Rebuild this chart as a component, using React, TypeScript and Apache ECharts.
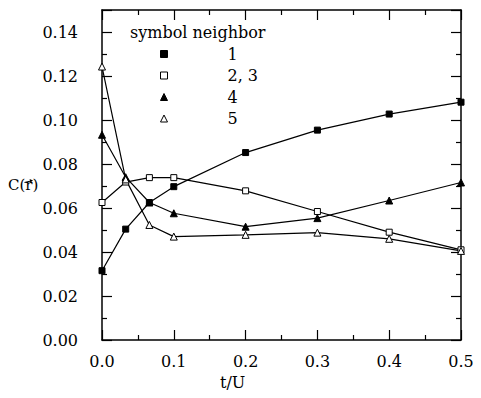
import React, { useEffect, useRef } from "react";
import * as echarts from "echarts";

const tValues = [0, 0.033, 0.066, 0.1, 0.2, 0.3, 0.4, 0.5];
const neighbor1 = [0.0315, 0.0504, 0.0625, 0.0697, 0.0852, 0.0954, 0.1027, 0.1081];
const neighbor23 = [0.0625, 0.0718, 0.0738, 0.0738, 0.0678, 0.0584, 0.049, 0.041];
const neighbor4 = [0.0933, 0.074, 0.0625, 0.0576, 0.0515, 0.0554, 0.0634, 0.0716];
const neighbor5 = [0.1243, 0.073, 0.0523, 0.047, 0.0478, 0.0488, 0.046, 0.0405];
const seriesNames = ["1", "2, 3", "4", "5"];
const xTitle = "t/U";
const yTitle = "C(r)";
const legendTitle = "symbol neighbor";

const FONT = "DejaVu Serif";

export default function App() {
  const ref = useRef<HTMLDivElement>(null);
  useEffect(() => {
    if (!ref.current) return;
    const chart = echarts.init(ref.current, null, { renderer: "svg" });
    const pairs = (ys: number[]) => tValues.map((t, i) => [t, ys[i]]);
    const filled = { color: "#000", borderColor: "#000", borderWidth: 1 };
    const open = { color: "#fff", borderColor: "#000", borderWidth: 1 };
    const mk = (name: string, ys: number[], symbol: string, style: any) => ({
      name,
      type: "line",
      data: pairs(ys),
      symbol,
      symbolSize: symbol === "triangle" ? 7 : 6,
      showSymbol: true,
      itemStyle: style,
      lineStyle: { color: "#000", width: 1.2 },
      xAxisIndex: 0,
      yAxisIndex: 0,
      z: 3,
    });
    const axisCommon = {
      axisLine: { show: true, onZero: false, lineStyle: { color: "#000", width: 1.5 } },
      axisTick: { show: true, inside: true, length: 10, lineStyle: { color: "#000", width: 1.2 } },
      minorTick: { show: true, splitNumber: 2, length: 5, lineStyle: { color: "#000", width: 1.2 } },
      splitLine: { show: false },
    };
    chart.setOption({
      animation: false,
      backgroundColor: "#fff",
      grid: { left: 102, right: 20, top: 10, bottom: 58, containLabel: false },
      xAxis: [
        {
          type: "value",
          position: "bottom",
          min: 0,
          max: 0.5,
          interval: 0.1,
          ...axisCommon,
          axisLabel: {
            show: true,
            margin: 13,
            fontFamily: FONT,
            fontSize: 16,
            color: "#000",
            formatter: (v: number) => v.toFixed(1),
          },
        },
        {
          type: "value",
          position: "top",
          min: 0,
          max: 0.5,
          interval: 0.1,
          ...axisCommon,
          axisLabel: { show: false },
        },
      ],
      yAxis: [
        {
          type: "value",
          position: "left",
          min: 0,
          max: 0.15,
          interval: 0.02,
          ...axisCommon,
          axisLabel: {
            show: true,
            margin: 24,
            fontFamily: FONT,
            fontSize: 16,
            color: "#000",
            showMaxLabel: false,
            formatter: (v: number) => v.toFixed(2),
          },
        },
        {
          type: "value",
          position: "right",
          min: 0,
          max: 0.15,
          interval: 0.02,
          ...axisCommon,
          axisLabel: { show: false },
        },
      ],
      legend: {
        show: true,
        orient: "vertical",
        left: 155,
        top: 41,
        itemWidth: 7,
        itemHeight: 7,
        itemGap: 5.5,
        selectedMode: false,
        formatter: (name: string) => `{p|${name}}`,
        textStyle: {
          fontFamily: FONT,
          fontSize: 16,
          color: "#000",
          lineHeight: 15,
          rich: { p: { padding: [0, 0, 0, 55], fontFamily: FONT, fontSize: 16, color: "#000" } },
        },
        data: [
          { name: seriesNames[0], icon: "rect", itemStyle: filled },
          { name: seriesNames[1], icon: "rect", itemStyle: open },
          { name: seriesNames[2], icon: "triangle", itemStyle: filled },
          { name: seriesNames[3], icon: "triangle", itemStyle: open },
        ],
      },
      graphic: [
        {
          type: "text",
          left: 130,
          top: 24,
          style: { text: legendTitle, font: `16px "${FONT}"`, fill: "#000" },
        },
        {
          type: "text",
          x: 8,
          y: 177,
          style: { text: yTitle, font: `15px "${FONT}"`, fill: "#000", verticalAlign: "top", align: "left" },
        },
        {
          type: "line",
          shape: { x1: 24.5, y1: 182.5, x2: 31, y2: 181 },
          style: { stroke: "#000", lineWidth: 1.1 },
        },
        {
          type: "polygon",
          shape: { points: [[33, 180.6], [29.6, 179], [30.4, 182.6]] },
          style: { fill: "#000" },
        },
        {
          type: "text",
          left: 220,
          top: 374,
          style: { text: xTitle, font: `16px "${FONT}"`, fill: "#000" },
        },
      ],
      series: [
        mk(seriesNames[0], neighbor1, "rect", filled),
        mk(seriesNames[1], neighbor23, "rect", open),
        mk(seriesNames[2], neighbor4, "triangle", filled),
        mk(seriesNames[3], neighbor5, "triangle", open),
      ],
    });
    return () => chart.dispose();
  }, []);
  return <div ref={ref} style={{ width: 481, height: 398, margin: -8 }} />;
}
